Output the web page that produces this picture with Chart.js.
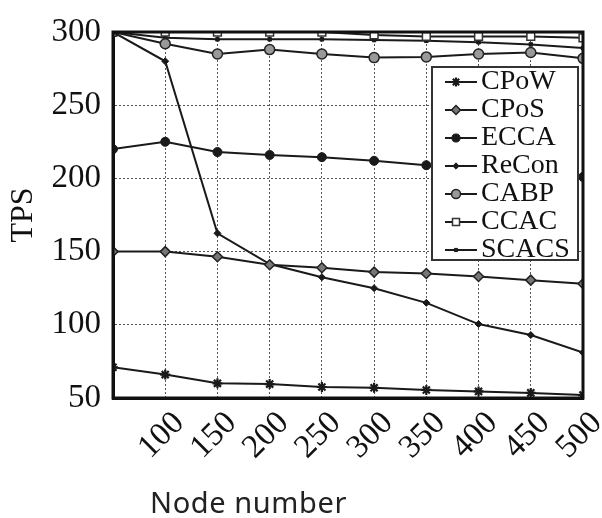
<!DOCTYPE html>
<html>
<head>
<meta charset="utf-8">
<script src="https://cdn.jsdelivr.net/npm/chart.js@4/dist/chart.umd.min.js"></script>
<style>
  html, body { margin: 0; padding: 0; background: #fff; }
  #wrap { position: relative; width: 602px; height: 518px; }
  #xtitle {
    position: absolute; left: 150px; top: 482px;
    font-family: "Noto Sans", sans-serif; font-size: 29px; color: #222;
    letter-spacing: 0.6px; white-space: nowrap;
  }
</style>
</head>
<body>
<div id="wrap">
  <canvas id="tps"></canvas>
  <div id="xtitle">Node number</div>
</div>
<script>
// node counts on the x axis
var nodes = [50, 100, 150, 200, 250, 300, 350, 400, 450, 500];
var yTicks = [50, 100, 150, 200, 250, 300];

// TPS values per scheme
var cpow  = [71, 66, 60, 59.5, 57.5, 57, 55.5, 54.5, 53.5, 52];
var cpos  = [150, 150, 146.5, 141, 139, 136, 135, 133, 130.5, 128];
var ecca  = [220, 225, 218, 216, 214.5, 212, 209, 206, 203.5, 201];
var recon = [300, 280, 162.5, 141.5, 132.5, 125, 115, 100.5, 93, 81];
var cabp  = [300, 292, 285, 288, 285, 282.5, 283, 285, 286, 282];
var ccac  = [300, 300, 300, 300, 300, 298, 297, 297, 297, 296];
var scacs = [300, 296, 295, 295, 295, 294.5, 294, 293, 291.5, 289];

var serif = '"Liberation Serif", "Times New Roman", Times, serif';
var ink = '#1a1a1a';

function pts(arr) {
  return arr.map(function(v, i) { return { x: nodes[i], y: v }; });
}

function series(label, arr, style, radius, fill, border, bw) {
  return {
    label: label,
    data: pts(arr),
    borderColor: ink,
    borderWidth: 2,
    tension: 0,
    pointStyle: style,
    pointRadius: radius,
    pointBackgroundColor: fill,
    pointBorderColor: border,
    pointBorderWidth: bw
  };
}

var datasets = [
  series('CPoW', cpow, 'star', 5, ink, ink, 2.2),
  series('CPoS', cpos, 'rectRot', 5, '#777', '#222', 1.5),
  series('ECCA', ecca, 'circle', 4.5, ink, ink, 1),
  series('ReCon', recon, 'rectRot', 3.5, ink, ink, 1),
  series('CABP', cabp, 'circle', 5, '#999', '#222', 1.5),
  series('CCAC', ccac, 'rect', 5.5, '#fff', '#333', 1.5),
  series('SCACS', scacs, 'rect', 2.5, ink, ink, 1)
];

// legend sample: short line with the marker in the middle
function sample(ds) {
  var c = document.createElement('canvas');
  c.width = 44; c.height = 16;
  var g = c.getContext('2d');
  g.strokeStyle = ink; g.lineWidth = 2;
  g.beginPath(); g.moveTo(1, 8); g.lineTo(43, 8); g.stroke();
  g.fillStyle = ds.pointBackgroundColor;
  g.strokeStyle = ds.pointBorderColor;
  g.lineWidth = ds.pointBorderWidth;
  if (Chart.helpers && Chart.helpers.drawPoint) {
    Chart.helpers.drawPoint(g, { pointStyle: ds.pointStyle, radius: ds.pointRadius * 0.9, rotation: 0, borderWidth: ds.pointBorderWidth }, 22, 8);
  } else {
    g.beginPath(); g.arc(22, 8, 4, 0, Math.PI * 2); g.fill(); g.stroke();
  }
  return c;
}

// plot frame + legend box drawn on top of the lines
var framePlugin = {
  id: 'frame',
  afterLayout: function(chart) {
    var lg = chart.legend;
    var a = chart.chartArea;
    lg.left = a.right - 138; lg.right = a.right - 3;
    lg.top = a.top + 36; lg.bottom = a.top + 232;
    lg.width = lg.right - lg.left; lg.height = lg.bottom - lg.top;
  },
  afterDatasetsDraw: function(chart) {
    var ctx = chart.ctx, a = chart.chartArea;
    ctx.save();
    ctx.strokeStyle = '#111';
    ctx.lineWidth = 3;
    ctx.strokeRect(a.left, a.top, a.right - a.left, a.bottom - a.top);
    // legend box
    var bx = a.right - 151, by = a.top + 35, bw = 146, bh = 193;
    ctx.fillStyle = '#fff';
    ctx.fillRect(bx, by, bw, bh);
    ctx.lineWidth = 2;
    ctx.strokeStyle = '#333';
    ctx.strokeRect(bx, by, bw, bh);
    ctx.restore();
    chart.legend.draw();
  }
};

function makeChart() {
  new Chart(document.getElementById('tps'), {
    type: 'line',
    data: { datasets: datasets },
    options: {
      responsive: true,
      maintainAspectRatio: false,
      animation: false,
      events: [],
      layout: { padding: { left: 0, right: 19, top: 32, bottom: 0 } },
      scales: {
        x: {
          type: 'linear',
          min: 50,
          max: 500,
          afterBuildTicks: function(scale) {
            scale.ticks = nodes.map(function(v) { return { value: v }; });
          },
          afterFit: function(scale) {
            scale.height = 120;
            scale.paddingLeft = 0;
            scale.paddingRight = 0;
          },
          ticks: {
            color: '#111',
            font: { family: serif, size: 33 },
            autoSkip: false,
            minRotation: 45,
            maxRotation: 45,
            padding: 6,
            labelOffset: 14,
            callback: function(v) { return v === 50 ? '' : String(v); }
          },
          grid: { color: '#555', lineWidth: 1, drawTicks: false },
          border: { display: true, color: '#111', width: 3, dash: [2, 2] }
        },
        y: {
          min: 50,
          max: 300,
          afterBuildTicks: function(scale) {
            scale.ticks = yTicks.map(function(v) { return { value: v }; });
          },
          afterFit: function(scale) {
            scale.width = 113;
            scale.paddingTop = 0;
            scale.paddingBottom = 0;
          },
          ticks: {
            color: '#111',
            font: { family: serif, size: 33 },
            padding: 12
          },
          title: {
            display: true,
            text: 'TPS',
            color: '#111',
            font: { family: serif, size: 32 },
            padding: { top: 4, bottom: 0 }
          },
          grid: { color: '#555', lineWidth: 1, drawTicks: false },
          border: { display: true, color: '#111', width: 3, dash: [2, 2] }
        }
      },
      plugins: {
        tooltip: { enabled: false },
        legend: {
          position: 'chartArea',
          align: 'start',
          labels: {
            usePointStyle: true,
            pointStyleWidth: 22,
            padding: 0,
            color: '#111',
            font: { family: serif, size: 28 },
            generateLabels: function(ch) {
              return ch.data.datasets.map(function(ds, i) {
                return {
                  text: ds.label,
                  datasetIndex: i,
                  pointStyle: sample(ds),
                  fontColor: '#111',
                  hidden: false,
                  lineWidth: 0,
                  strokeStyle: ink,
                  fillStyle: ink
                };
              });
            }
          }
        }
      }
    },
    plugins: [framePlugin]
  });
}

// make sure the serif face is ready before the canvas text is drawn
Promise.all([
  document.fonts.load('31px "Liberation Serif"'),
  document.fonts.load('29px "Noto Sans"')
]).then(makeChart, makeChart);
</script>
</body>
</html>
